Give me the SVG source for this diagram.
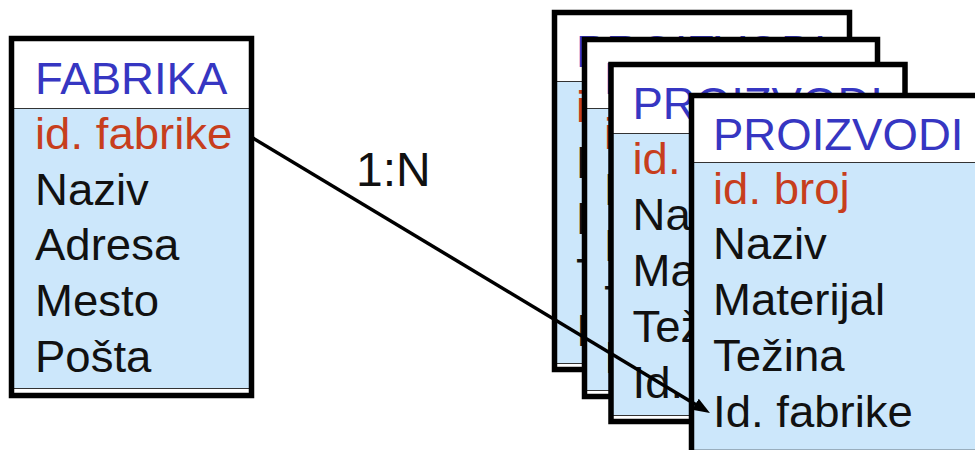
<svg xmlns="http://www.w3.org/2000/svg" width="975" height="450" viewBox="0 0 975 450">
<defs>
<style>
.body{fill:#cce7fb}
.head{fill:#fff}
.foot{fill:#fff}
.sep{stroke:#333;stroke-width:1.2}
.frame{fill:none;stroke:#000;stroke-width:5.5}
.t{font-family:"Liberation Sans",Arial,sans-serif;font-size:44px}
.title{fill:#3636c2}
.key{fill:#c73e1d}
.attr{fill:#111}
.lbl{font-family:"Liberation Sans",Arial,sans-serif;font-size:48px;fill:#111}
.conn{stroke:#000;stroke-width:3.5;fill:none}
</style>
<marker id="arr" markerUnits="userSpaceOnUse" markerWidth="18" markerHeight="14" refX="9" refY="6.5" orient="auto">
<path d="M0,0 L17,6.5 L0,13 z" fill="#000"/>
</marker>
</defs>

<g id="proizvodi1" transform="translate(554.5,12.5)">
<rect class="body" x="0" y="0" width="295" height="357"/>
<rect class="head" x="0" y="0" width="295" height="69"/>
<line class="sep" x1="0" y1="69" x2="295" y2="69"/>
<rect class="foot" x="0" y="351" width="295" height="6"/>
<line class="sep" x1="0" y1="351" x2="295" y2="351"/>
<rect class="frame" x="0" y="0" width="295" height="357"/>
<g transform="translate(21.5,0) scale(1.035,1)">
<text class="t title" x="0" y="55">PROIZVODI</text>
<text class="t key" x="0" y="110">id.</text>
<text class="t attr" x="0" y="166">Na</text>
<text class="t attr" x="0" y="222">Ma</text>
<text class="t attr" x="0" y="278">Te</text>
<text class="t attr" x="0" y="334">Id.</text>
</g>
</g>

<g id="proizvodi2" transform="translate(584.5,39.5)">
<rect class="body" x="0" y="0" width="293" height="357"/>
<rect class="head" x="0" y="0" width="293" height="69"/>
<line class="sep" x1="0" y1="69" x2="293" y2="69"/>
<rect class="foot" x="0" y="351" width="293" height="6"/>
<line class="sep" x1="0" y1="351" x2="293" y2="351"/>
<rect class="frame" x="0" y="0" width="293" height="357"/>
<g transform="translate(19.5,0) scale(1.035,1)">
<text class="t title" x="0" y="55">PROIZVODI</text>
<text class="t key" x="0" y="110">id.</text>
<text class="t attr" x="0" y="166">Na</text>
<text class="t attr" x="0" y="222">Ma</text>
<text class="t attr" x="0" y="278">Te</text>
<text class="t attr" x="0" y="334">Id.</text>
</g>
</g>

<g id="proizvodi3" transform="translate(611,64.5)">
<rect class="body" x="0" y="0" width="294" height="357"/>
<rect class="head" x="0" y="0" width="294" height="69"/>
<line class="sep" x1="0" y1="69" x2="294" y2="69"/>
<rect class="foot" x="0" y="351" width="294" height="6"/>
<line class="sep" x1="0" y1="351" x2="294" y2="351"/>
<rect class="frame" x="0" y="0" width="294" height="357"/>
<g transform="translate(21.5,0) scale(1.035,1)">
<text class="t title" x="0" y="55">PROIZVODI</text>
<text class="t key" x="0" y="110">id.</text>
<text class="t attr" x="0" y="166">Na</text>
<text class="t attr" x="0" y="222">Ma</text>
<text class="t attr" x="0" y="278">Tež</text>
<text class="t attr" x="0" y="334">Id.</text>
</g>
</g>

<g id="proizvodi4" transform="translate(691.5,95.5)">
<rect class="body" x="0" y="0" width="294" height="357"/>
<rect class="head" x="0" y="0" width="294" height="67"/>
<line class="sep" x1="0" y1="67" x2="294" y2="67"/>
<rect class="frame" x="0" y="0" width="294" height="357"/>
<g transform="translate(21.5,0) scale(1.035,1)">
<text class="t title" x="0" y="54">PROIZVODI</text>
<text class="t key" x="0" y="108">id. broj</text>
<text class="t attr" x="0" y="164">Naziv</text>
<text class="t attr" x="0" y="220">Materijal</text>
<text class="t attr" x="0" y="276">Težina</text>
<text class="t attr" x="0" y="332">Id. fabrike</text>
</g>
</g>

<g id="fabrika" transform="translate(11.5,38.5)">
<rect class="body" x="0" y="0" width="240" height="357"/>
<rect class="head" x="0" y="0" width="240" height="70"/>
<line class="sep" x1="0" y1="70" x2="240" y2="70"/>
<rect class="foot" x="0" y="350" width="240" height="7"/>
<line class="sep" x1="0" y1="350" x2="240" y2="350"/>
<rect class="frame" x="0" y="0" width="240" height="357"/>
<g transform="translate(23.5,0) scale(1.035,1)">
<text class="t title" x="0" y="56">FABRIKA</text>
<text class="t key" x="0" y="111">id. fabrike</text>
<text class="t attr" x="0" y="167">Naziv</text>
<text class="t attr" x="0" y="222">Adresa</text>
<text class="t attr" x="0" y="278">Mesto</text>
<text class="t attr" x="0" y="334">Pošta</text>
</g>
</g>

<g id="connectors">
<line class="conn" x1="252" y1="137.5" x2="703.1" y2="408.9" marker-end="url(#arr)"/>
<text class="lbl" x="356" y="186">1:N</text>
</g>
</svg>
